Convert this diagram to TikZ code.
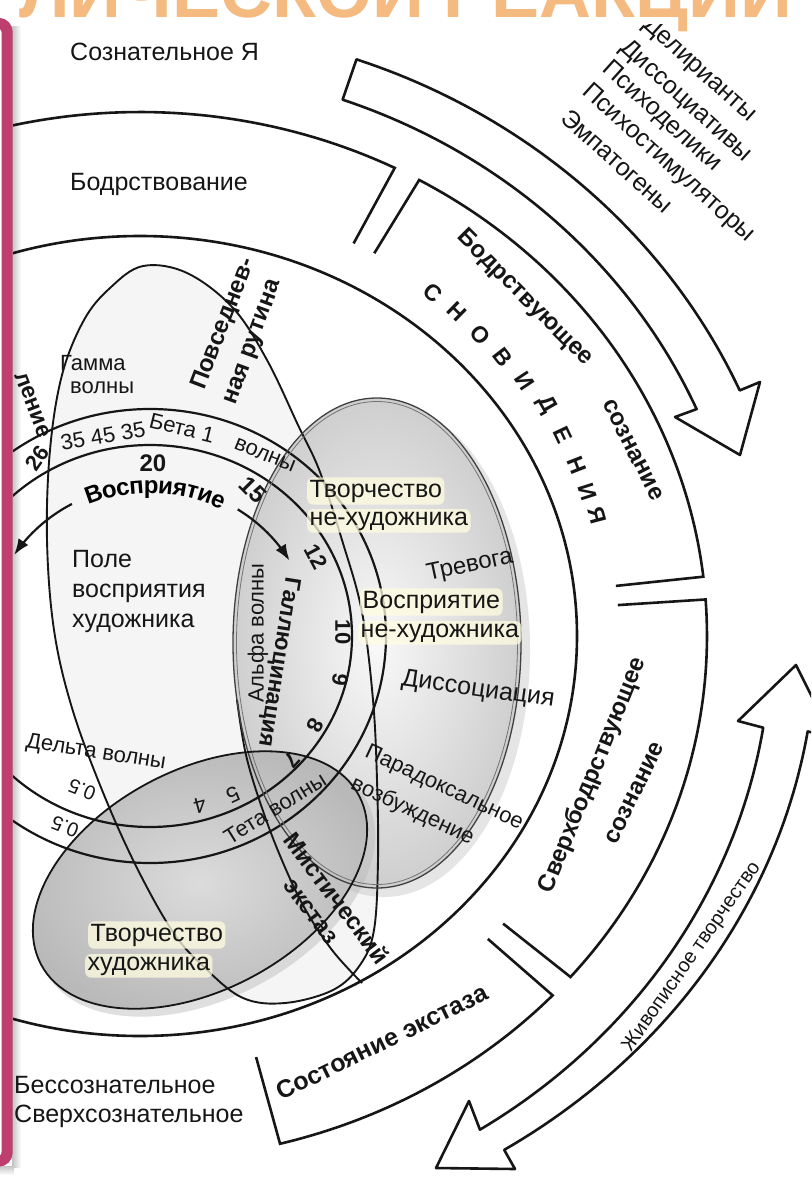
\documentclass[tikz,border=0pt]{standalone}
\usepackage{fontspec}
\setmainfont{Liberation Sans}
\usetikzlibrary{arrows.meta,calc,decorations.text}
\definecolor{framepink}{RGB}{190,62,110}
\definecolor{ink}{RGB}{22,22,22}
\definecolor{titlefill}{RGB}{244,186,128}
\newcommand\fz[1]{\fontsize{#1}{#1}\selectfont}
\begin{document}
\begin{tikzpicture}[x=1pt,y=-1pt,
  ring/.style={line width=2.6pt, draw=ink},
  wave/.style={line width=2.2pt, draw=ink},
  loopline/.style={line width=1.9pt, draw=ink},
  lbl/.style={inner sep=0pt, text=ink, font=\fz{25}},
  wlbl/.style={inner sep=0pt, text=ink, font=\fz{22}},
  blbl/.style={inner sep=0pt, text=ink, font=\fz{24}\bfseries},
  glow/.style={fill=white!88!yellow, fill opacity=0.75, text opacity=1, rounded corners=6pt, inner sep=2.5pt},
  snl/.style={inner sep=0pt, text=ink, font=\fz{23}\bfseries}
]
\useasboundingbox (0,0) rectangle (811,1183);
\fill[white] (0,0) rectangle (811,1183);

% cut-off title
\begin{scope}
\clip (0,0) rectangle (811,1183);
\node[font=\fz{72}\bfseries, text=titlefill, anchor=base] (title) at (405.5,17) {ЛИЧЕСКОЙ РЕАКЦИИ};
\end{scope}

% frame shadow (under the diagram texts)
\shade[left color=gray!45, right color=white] (12.5,26) rectangle (21,1167);
\shade[top color=gray!45, bottom color=white] (-5,1166) rectangle (14,1175);

\begin{scope}
\clip (13,24) rectangle (811,1183);
\coordinate (C) at (140,636);
\coordinate (W) at (150,636);

% fills
\fill[gray!8] plot[smooth cycle, tension=0.6] coordinates {(143,266) (187,273) (233,308) (267,360) (298,425) (320,472) (342,540) (362,612) (373,700) (377,780) (378,860) (374,930) (360,965) (333,990) (285,1003) (243,998) (205,968) (173,932) (136,866) (102,790) (72,708) (54,630) (47,540) (50,450) (62,375) (84,320) (110,288)};
\fill[gray!45, opacity=0.45] (384,650) ellipse [x radius=146, y radius=247];
\shade[inner color=gray!5, outer color=gray!38] (377,643) ellipse [x radius=144, y radius=245];
\fill[gray!55, opacity=0.45, rotate around={28:(206,886)}] (206,886) ellipse [x radius=182, y radius=112];
\shade[rotate around={28:(200,880)}, inner color=gray!28, outer color=gray!55] (200,880) ellipse [x radius=180, y radius=110];

% inner ring
\draw[ring] (C) ellipse [x radius=437, y radius=400];

% outer ring pieces with radial ticks
\coordinate (L1e) at (394.7,167.9);
\coordinate (B1s) at (419.2,179.9);
\coordinate (B1e) at (703.4,576.7);
\coordinate (B2s) at (705.6,599.4);
\coordinate (B2e) at (570.5,977.0);
\coordinate (B3s) at (552.7,995.4);
\coordinate (B3e) at (280.0,1143.8);
\draw[ring] plot[domain=106:63.3, samples=40] ({140+567*cos(\x)},{636-524*sin(\x)}) -- ($(L1e)!86pt!(C)$);
\draw[ring] ($(B1s)!86pt!(C)$) -- plot[domain=60.5:6.5, samples=60] ({140+567*cos(\x)},{636-524*sin(\x)}) -- ($(B1e)!88pt!(C)$);
\draw[ring] ($(B2s)!88pt!(C)$) -- plot[domain=4:-40.6, samples=50] ({140+567*cos(\x)},{636-524*sin(\x)}) -- ($(B2e)!86pt!(C)$);
\draw[ring] ($(B3s)!86pt!(C)$) -- plot[domain=-43.3:-75.7, samples=40] ({140+567*cos(\x)},{636-524*sin(\x)}) -- ($(B3e)!90pt!(C)$);

% big curved arrows
\draw[ring, fill=white, line join=round] plot[domain=70.7:23.7, samples=50] ({140+655*cos(\x)},{636-611*sin(\x)}) -- (760,382) -- (740,455) -- (675,417) -- plot[domain=23.5:70.5, samples=50] ({140+607*cos(\x)},{636-569*sin(\x)}) -- cycle;
\draw[ring, fill=white, line join=round] plot[domain=-9:-57.4, samples=50] ({140+676*cos(\x)},{636-610*sin(\x)}) -- (515,1169) -- (436,1168) -- (469,1101) -- plot[domain=-57.4:-9, samples=50] ({140+631*cos(\x)},{636-586*sin(\x)}) -- (738,721) -- (796,665) -- (832,737) -- cycle;

% wave ellipses
\draw[wave] (W) ellipse [x radius=236, y radius=227];
\draw[wave] (W) ellipse [x radius=202, y radius=191];

% tall loop
\draw[loopline] plot[smooth cycle, tension=0.6] coordinates {(143,266) (187,273) (233,308) (267,360) (298,425) (320,472) (342,540) (362,612) (373,700) (377,780) (378,860) (374,930) (360,965) (333,990) (285,1003) (243,998) (205,968) (173,932) (136,866) (102,790) (72,708) (54,630) (47,540) (50,450) (62,375) (84,320) (110,288)};
% line along the mystical ecstasy label
\draw[loopline] plot[smooth, tension=0.6] coordinates {(237,700) (246,755) (262,808) (281,858) (304,907) (332,950) (362,983)};

% shaded ellipse outlines
\draw[line width=1.3pt, black!75] (377,643) ellipse [x radius=144, y radius=245];
\draw[line width=0.8pt, black!55] (377,643) ellipse [x radius=140.5, y radius=241.5];
\draw[line width=1.8pt, ink, rotate around={28:(200,880)}] (200,880) ellipse [x radius=180, y radius=110];

% perception arc
\draw[wave, -{Latex[length=16pt,width=12pt]}] plot[domain=119:147.5, samples=20] ({150+161*cos(\x)},{636-151*sin(\x)});
\draw[wave, -{Latex[length=16pt,width=12pt]}] plot[domain=57:30, samples=20] ({150+161*cos(\x)},{636-151*sin(\x)});
\path[decorate, decoration={text along path, text={|\fz{24}\bfseries|Восприятие}, text align={center}, raise=-8pt}] plot[domain=122:54, samples=40] ({150+161*cos(\x)},{636-151*sin(\x)});

% labels, plain
\node[lbl, anchor=base west] (sozn) at (70,60) {Сознательное Я};
\node[lbl, anchor=base west] (bodr) at (70,190) {Бодрствование};
\node[wlbl, anchor=base west] (gam1) at (60,370) {Гамма};
\node[wlbl, anchor=base west] (gam2) at (70,393) {волны};
\node[lbl, anchor=base west] (pole1) at (72,567) {Поле};
\node[lbl, anchor=base west] (pole2) at (72,597) {восприятия};
\node[lbl, anchor=base west] (pole3) at (72,627) {художника};
\node[lbl, glow, anchor=base west] (tn1) at (307,497) {Творчество};
\node[lbl, glow, anchor=base west] (tn2) at (307,525) {не-художника};
\node[lbl, glow, anchor=base west] (vn1) at (360,608) {Восприятие};
\node[lbl, glow, anchor=base west] (vn2) at (358,637) {не-художника};
\node[lbl, glow, anchor=base west] (th1) at (88,941) {Творчество};
\node[lbl, glow, anchor=base west] (th2) at (85,970) {художника};
\node[lbl, anchor=base west] (bess) at (14,1093) {Бессознательное};
\node[lbl, anchor=base west] (sver) at (14,1122) {Сверхсознательное};

\node[lbl, font=\fz{24}, rotate=12] (trev) at (470,566) {Тревога};
\node[lbl, rotate=-8] (diss) at (478,690) {Диссоциация};
\node[wlbl, anchor=west, rotate=-25] (par1) at (366,752) {Парадоксальное};
\node[wlbl, anchor=west, rotate=-25] (par2) at (352,783) {возбуждение};
\node[wlbl, rotate=32] (teta) at (275,808) {Тета волны};
\node[wlbl, rotate=-9] (delta) at (96,753) {Дельта волны};
\node[wlbl, rotate=90] (alfa) at (258,633) {Альфа волны};
\node[wlbl, rotate=-14] (beta) at (182,428) {Бета 1};
\node[wlbl, rotate=-22] (betaw) at (265,455) {волны};
\node[wlbl, rotate=10] (n354535) at (103,436) {35 45 35};
\node[wlbl, font=\fz{22}\bfseries, rotate=55] (n26) at (37,458) {26};
\node[blbl] (n20) at (153,463) {20};
\node[blbl, rotate=-45] (n15) at (253,490) {15};
\node[wlbl, font=\fz{22}\bfseries, rotate=-62] (n12) at (316,557) {12};
\node[wlbl, font=\fz{22}\bfseries, rotate=-90] (n10) at (343,632) {10};
\node[wlbl, font=\fz{22}\bfseries, rotate=-100] (n9) at (340,680) {9};
\node[wlbl, font=\fz{22}\bfseries, rotate=-118] (n8) at (315,725) {8};
\node[wlbl, font=\fz{22}\bfseries, rotate=-132] (n7) at (292,760) {7};
\node[wlbl, rotate=-155] (n5) at (233,795) {5};
\node[wlbl, rotate=-165] (n4) at (200,805) {4};
\node[wlbl, font=\fz{20}, rotate=158] (n05a) at (82,790) {0.5};
\node[wlbl, font=\fz{20}, rotate=158] (n05b) at (65,827) {0.5};
\node[blbl, font=\fz{23}\bfseries, rotate=-99] (gall) at (278,662) {Галлюцинация};
\node[blbl, font=\fz{23}\bfseries, anchor=east, rotate=-69] (mysl) at (45,437) {ление};
\node[blbl, anchor=west, rotate=69] (povs1) at (199,389) {Повседнев-};
\node[blbl, anchor=west, rotate=70] (povs2) at (232,404) {ная рутина};
\node[blbl, rotate=-53] (myst1) at (337,898) {Мистический};
\node[blbl, rotate=-53] (myst2) at (310,912) {экстаз};

% band labels
\node[blbl, rotate=-45] (bsoz1) at (525,298) {Бодрствующее};
\node[blbl, rotate=-63] (bsoz2) at (633,450) {сознание};
\node[blbl, rotate=68] (ssoz1) at (593,775) {Сверхбодрствующее};
\node[blbl, rotate=64] (ssoz2) at (635,793) {сознание};
\node[blbl, font=\fz{25}\bfseries, rotate=26] (ekst) at (382,1042) {Состояние экстаза};
\node[wlbl, font=\fz{20}, rotate=55] (zhiv) at (692,957) {Живописное творчество};

% СНОВИДЕНИЯ
\node[snl, rotate=-40.5] (sn1) at (433,293) {С};
\node[snl, rotate=-44.4] (sn2) at (457,312) {Н};
\node[snl, rotate=-48.5] (sn3) at (480,335) {О};
\node[snl, rotate=-52.5] (sn4) at (503,357) {В};
\node[snl, rotate=-56.5] (sn5) at (525,381) {И};
\node[snl, rotate=-60.4] (sn6) at (546,405) {Д};
\node[snl, rotate=-64.6] (sn7) at (563,435) {Е};
\node[snl, rotate=-68.6] (sn8) at (577,465) {Н};
\node[snl, rotate=-72.2] (sn9) at (588,492) {И};
\node[snl, rotate=-75.2] (sn10) at (597,515) {Я};

% drug list
\node[lbl, anchor=west, rotate=-42] (d1) at (646,22) {Делирианты};
\node[lbl, anchor=west, rotate=-42] (d2) at (623,45) {Диссоциативы};
\node[lbl, anchor=west, rotate=-42] (d3) at (605,66) {Психоделики};
\node[lbl, anchor=west, rotate=-42] (d4) at (585,89) {Психостимуляторы};
\node[lbl, anchor=west, rotate=-42] (d5) at (565,114) {Эмпатогены};
\end{scope}

% frame
\draw[line width=11pt, draw=framepink, rounded corners=8pt] (-30,23.5) -- (7,23.5) -- (7,1161) -- (-30,1161);
\end{tikzpicture}
\end{document}
